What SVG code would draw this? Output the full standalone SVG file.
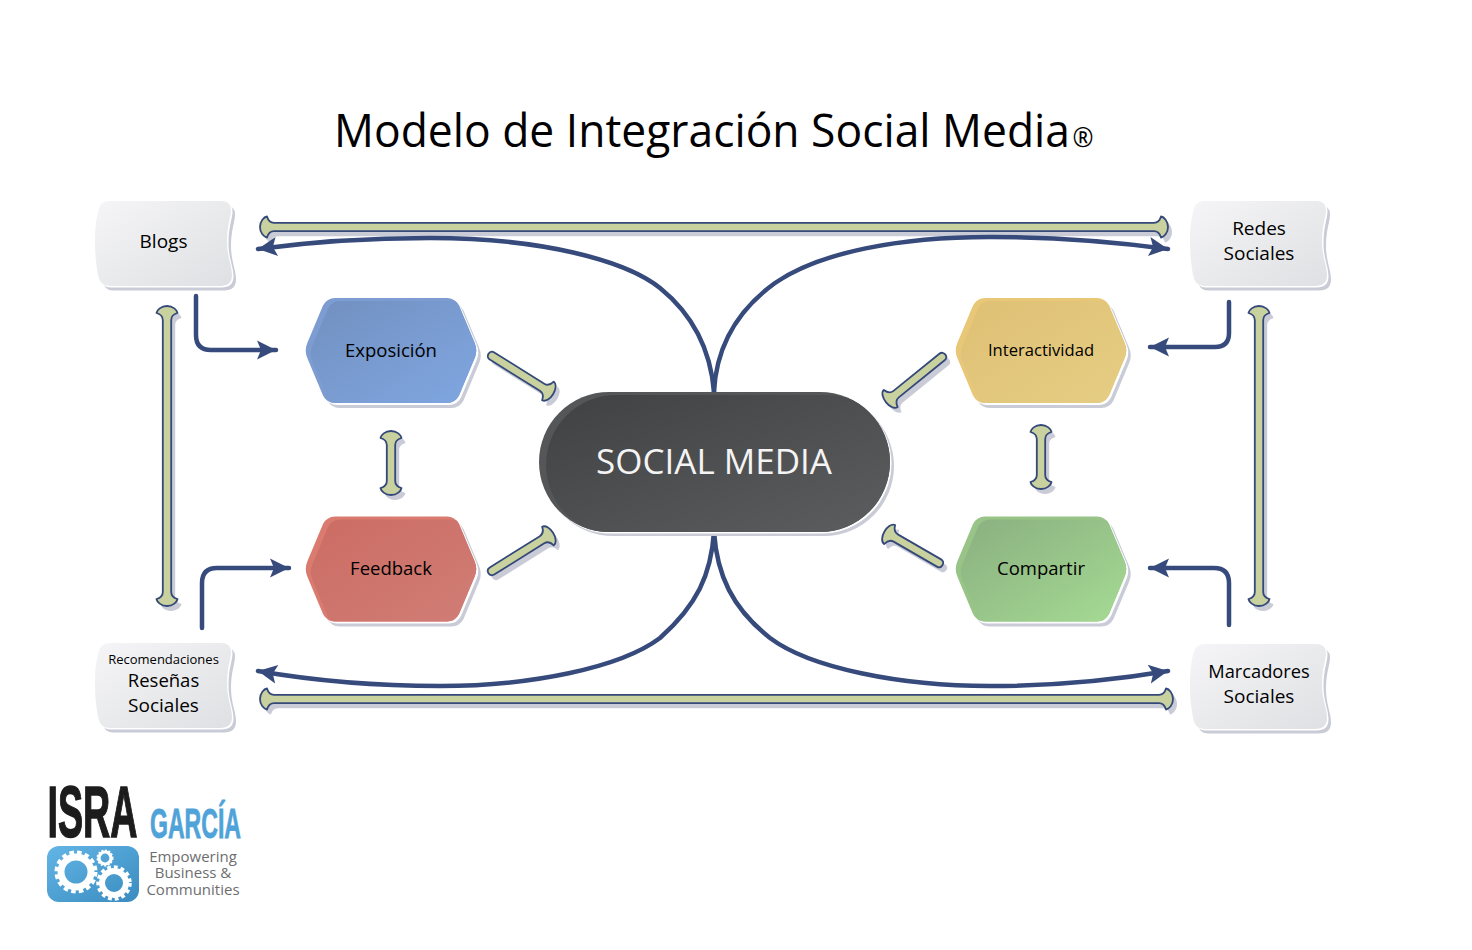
<svg xmlns="http://www.w3.org/2000/svg" width="1472" height="950" viewBox="0 0 1472 950">
<style>
text{font-family:"Open Sans","Noto Sans",sans-serif;fill:#000;text-anchor:middle}
.lbl{font-size:19px}
.hx{font-size:18.500px}
.curve{fill:none;stroke:#364a7c;stroke-width:4.500;stroke-linecap:round;stroke-linejoin:round;marker-end:url(#head)}
.bone{fill:#c9d19e;stroke:#34487a;stroke-width:1.800;stroke-linejoin:round}
.shade{fill:#c9cbd6}
.tag{font-size:15px;fill:#6d6e70}
.lg{font-family:"Liberation Sans",sans-serif;font-weight:bold}
</style>
<defs>
<marker id="head" markerUnits="userSpaceOnUse" markerWidth="26" markerHeight="26" refX="19" refY="13" orient="auto" overflow="visible">
<path d="M0,3.500 L19,13 L0,22.500 L4,13Z" fill="#364a7c"/>
</marker>
<linearGradient id="gDoc" x1="0" y1="0" x2="1" y2="1"><stop offset="0" stop-color="#f5f5f7"/><stop offset="1" stop-color="#dfe0e3"/></linearGradient>
<linearGradient id="gPill" x1="0" y1="0" x2="1" y2="1"><stop offset="0" stop-color="#404142"/><stop offset="1" stop-color="#5d5e60"/></linearGradient>
<linearGradient id="gBlue" x1="0" y1="0" x2="1" y2="1"><stop offset="0" stop-color="#7290c0"/><stop offset="1" stop-color="#80a7e2"/></linearGradient>
<linearGradient id="gRed" x1="0" y1="0" x2="1" y2="1"><stop offset="0" stop-color="#cc6c64"/><stop offset="1" stop-color="#d07e76"/></linearGradient>
<linearGradient id="gYel" x1="0" y1="0" x2="1" y2="1"><stop offset="0" stop-color="#dfc074"/><stop offset="1" stop-color="#e5ce84"/></linearGradient>
<linearGradient id="gGrn" x1="0" y1="0" x2="1" y2="1"><stop offset="0" stop-color="#8aaf80"/><stop offset="1" stop-color="#a6dc94"/></linearGradient>
<linearGradient id="gLogo" x1="0" y1="0" x2="1" y2="1"><stop offset="0" stop-color="#62b5e5"/><stop offset="1" stop-color="#3a8cc0"/></linearGradient>
<path id="doc" d="M14,0 H126 Q136,0 136,9 C136,16 132,24 132,40 C132,56 137,64 137,74 Q137,85 125,85 H14 Q5,85 3,74 C1,62 0,54 0,40 C0,26 1,20 3,11 Q5,0 14,0Z"/>
<path id="hex" d="M-56,-52.500 H56 Q64,-52.500 68,-45 L83.500,-8 Q87,0 83.500,8 L68,45 Q64,52.500 56,52.500 H-56 Q-64,52.500 -68,45 L-83.500,8 Q-87,0 -83.500,-8 L-68,-45 Q-64,-52.500 -56,-52.500Z"/>
<clipPath id="hexClip"><use href="#hex"/></clipPath>
<rect id="pill" x="0" y="0" width="351" height="140" rx="70"/>
<clipPath id="pillClip"><use href="#pill"/></clipPath>
<path id="boneV64" d="M0,0 C6,0 10,4 10.500,7 C7,8 4.200,10 4.200,14 V50 C4.200,54 7,56 10.500,57 C10,60 6,64 0,64 C-6,64 -10,60 -10.500,57 C-7,56 -4.200,54 -4.200,50 V14 C-4.200,10 -7,8 -10.500,7 C-10,4 -6,0 0,0Z"/>
<path id="boneV300" d="M0,0 C6,0 10,4 10.500,7 C7,8 4.200,10 4.200,14 V286 C4.200,290 7,292 10.500,293 C10,296 6,300 0,300 C-6,300 -10,296 -10.500,293 C-7,292 -4.200,290 -4.200,286 V14 C-4.200,10 -7,8 -10.500,7 C-10,4 -6,0 0,0Z"/>
<path id="boneH908" d="M0,0 C0,-6 4,-10 7,-10.500 C8,-7 10,-4.200 14,-4.200 H894 C898,-4.200 900,-7 901,-10.500 C904,-10 908,-6 908,0 C908,6 904,10 901,10.500 C900,7 898,4.200 894,4.200 H14 C10,4.200 8,7 7,10.500 C4,10 0,6 0,0Z"/>
<path id="boneH913" d="M0,0 C0,-6 4,-10 7,-10.500 C8,-7 10,-4.200 14,-4.200 H899 C903,-4.200 905,-7 906,-10.500 C909,-10 913,-6 913,0 C913,6 909,10 906,10.500 C905,7 903,4.200 899,4.200 H14 C10,4.200 8,7 7,10.500 C4,10 0,6 0,0Z"/>
<path id="peg" d="M0,-4.200 H59 C63,-4.200 65,-7 66,-11 C70,-10.500 72,-5 72,0 C72,5 70,10.500 66,11 C65,7 63,4.200 59,4.200 H0 C-5.500,4.200 -5.500,-4.200 0,-4.200Z"/>
<path id="pegS" d="M0,-4.200 H50 C54,-4.200 56,-7 57,-11 C61,-10.500 63,-5 63,0 C63,5 61,10.500 57,11 C56,7 54,4.200 50,4.200 H0 C-5.500,4.200 -5.500,-4.200 0,-4.200Z"/>
</defs>
<rect width="1472" height="950" fill="#fff"/>
<g id="title">
<text x="702" y="147" font-size="46" textLength="736" lengthAdjust="spacingAndGlyphs">Modelo de Integración Social Media</text>
<text x="1083" y="147" font-size="28" textLength="21" lengthAdjust="spacingAndGlyphs">®</text>
</g>
<g id="connectors">
<g id="bones-shadow" class="shade" transform="translate(4,5)">
<use href="#boneH908" x="260" y="227"/><use href="#boneH913" x="260" y="699"/>
<use href="#boneV300" x="167" y="306"/><use href="#boneV300" x="1259" y="306"/>
<use href="#boneV64" x="391" y="431"/><use href="#boneV64" x="1041" y="425"/>
<use href="#peg" transform="translate(492,356) rotate(32)"/>
<use href="#peg" transform="translate(492,571) rotate(-32)"/>
<use href="#peg" transform="translate(942,357) rotate(141)"/>
<use href="#pegS" transform="translate(939,563) rotate(210)"/>
</g>
<g class="bone">
<use href="#boneH908" x="260" y="227"/><use href="#boneH913" x="260" y="699"/>
<use href="#boneV300" x="167" y="306"/><use href="#boneV300" x="1259" y="306"/>
<use href="#boneV64" x="391" y="431"/><use href="#boneV64" x="1041" y="425"/>
<use href="#peg" transform="translate(492,356) rotate(32)"/>
<use href="#peg" transform="translate(492,571) rotate(-32)"/>
<use href="#peg" transform="translate(942,357) rotate(141)"/>
<use href="#pegS" transform="translate(939,563) rotate(210)"/>
</g>
<path class="curve" d="M714,392 C711,355 697,318 660,288 C625,260 540,238 430,238 C370,238 310,242 258,249"/>
<path class="curve" d="M714,392 C716,350 735,312 775,283 C820,252 900,237 990,237 C1055,237 1115,242 1168,249"/>
<path class="curve" d="M714,532 C711,575 697,605 660,638 C620,668 530,686 440,686 C370,686 310,680 258,671"/>
<path class="curve" d="M714,532 C717,575 732,608 770,638 C810,668 900,686 990,686 C1055,686 1115,680 1168,671"/>
<path class="curve" d="M196,296 V335 Q196,350 211,350 H276"/>
<path class="curve" d="M1229,302 V333 Q1229,347 1215,347 H1150"/>
<path class="curve" d="M1229,625 V583 Q1229,568 1214,568 H1150"/>
<path class="curve" d="M202,628 V583 Q202,568 217,568 H289"/>
</g>
<g id="node-blogs" transform="translate(95,201)">
<use href="#doc" class="shade" x="4" y="4.500"/><use href="#doc" fill="#fff" x="1.500" y="1.500"/><use href="#doc" fill="url(#gDoc)"/>
<text class="lbl" x="68.500" y="47">Blogs</text>
</g>
<g id="node-redes" transform="translate(1190,201)">
<use href="#doc" class="shade" x="4" y="4.500"/><use href="#doc" fill="#fff" x="1.500" y="1.500"/><use href="#doc" fill="url(#gDoc)"/>
<text class="lbl" x="69" y="34">Redes</text><text class="lbl" x="69" y="59">Sociales</text>
</g>
<g id="node-resenas" transform="translate(95,643)">
<use href="#doc" class="shade" x="4" y="4.500"/><use href="#doc" fill="#fff" x="1.500" y="1.500"/><use href="#doc" fill="url(#gDoc)"/>
<text x="68.500" y="21" font-size="13">Recomendaciones</text><text x="68.500" y="44" font-size="18.500">Reseñas</text><text class="lbl" x="68.500" y="69">Sociales</text>
</g>
<g id="node-marcadores" transform="translate(1190,644)">
<use href="#doc" class="shade" x="4" y="4.500"/><use href="#doc" fill="#fff" x="1.500" y="1.500"/><use href="#doc" fill="url(#gDoc)"/>
<text x="69" y="34" font-size="18.300">Marcadores</text><text class="lbl" x="69" y="59">Sociales</text>
</g>
<g id="node-exposicion" transform="translate(391,350.500)">
<use href="#hex" class="shade" x="4.500" y="5"/><use href="#hex" fill="#fff" x="2" y="2"/><use href="#hex" fill="#7c9cd2"/>
<g clip-path="url(#hexClip)"><use href="#hex" fill="url(#gBlue)" x="5" y="3"/></g>
<text class="hx" x="0" y="6.500">Exposición</text>
</g>
<g id="node-feedback" transform="translate(391,569)">
<use href="#hex" class="shade" x="4.500" y="5"/><use href="#hex" fill="#fff" x="2" y="2"/><use href="#hex" fill="#da7b70"/>
<g clip-path="url(#hexClip)"><use href="#hex" fill="url(#gRed)" x="5" y="3"/></g>
<text class="hx" x="0" y="6">Feedback</text>
</g>
<g id="node-interactividad" transform="translate(1041,350.500)">
<use href="#hex" class="shade" x="4.500" y="5"/><use href="#hex" fill="#fff" x="2" y="2"/><use href="#hex" fill="#e8c878"/>
<g clip-path="url(#hexClip)"><use href="#hex" fill="url(#gYel)" x="5" y="3"/></g>
<text x="0" y="5.500" font-size="16.600">Interactividad</text>
</g>
<g id="node-compartir" transform="translate(1041,569)">
<use href="#hex" class="shade" x="4.500" y="5"/><use href="#hex" fill="#fff" x="2" y="2"/><use href="#hex" fill="#98c488"/>
<g clip-path="url(#hexClip)"><use href="#hex" fill="url(#gGrn)" x="5" y="3"/></g>
<text class="hx" x="0" y="6">Compartir</text>
</g>
<g id="node-social-media" transform="translate(539,392)">
<use href="#pill" class="shade" x="4" y="4"/><use href="#pill" fill="#fff" x="1.500" y="1.500"/><use href="#pill" fill="#555657"/>
<g clip-path="url(#pillClip)"><use href="#pill" fill="url(#gPill)" x="7" y="3"/></g>
<text x="175" y="82" font-size="35" style="fill:#f4f4f4">SOCIAL MEDIA</text>
</g>
<g id="logo">
<text class="lg" x="92.500" y="837" font-size="73" textLength="90" lengthAdjust="spacingAndGlyphs" stroke="#1c1c1c" stroke-width="1.500" style="fill:#1c1c1c">ISRA</text>
<text class="lg" x="195.500" y="838" font-size="42" textLength="91" lengthAdjust="spacingAndGlyphs" stroke="#4fa3d8" stroke-width="0.800" style="fill:#4fa3d8">GARCÍA</text>
<rect x="47" y="846" width="92" height="56" rx="12" fill="url(#gLogo)"/>
<g fill="none" stroke="#fff">
<circle cx="76" cy="872" r="19.500" stroke-width="4" stroke-dasharray="4.500 3.200"/><circle cx="76" cy="872" r="15" stroke-width="7"/>
<circle cx="114" cy="883" r="16" stroke-width="3.500" stroke-dasharray="3.800 3"/><circle cx="114" cy="883" r="12" stroke-width="6"/>
<circle cx="105" cy="858" r="7.500" stroke-width="2" stroke-dasharray="2 1.500"/><circle cx="105" cy="858" r="6" stroke-width="3.200"/>
</g>
<text class="tag" x="193" y="862">Empowering</text>
<text class="tag" x="193" y="878">Business &amp;</text>
<text class="tag" x="193" y="895">Communities</text>
</g>
</svg>
